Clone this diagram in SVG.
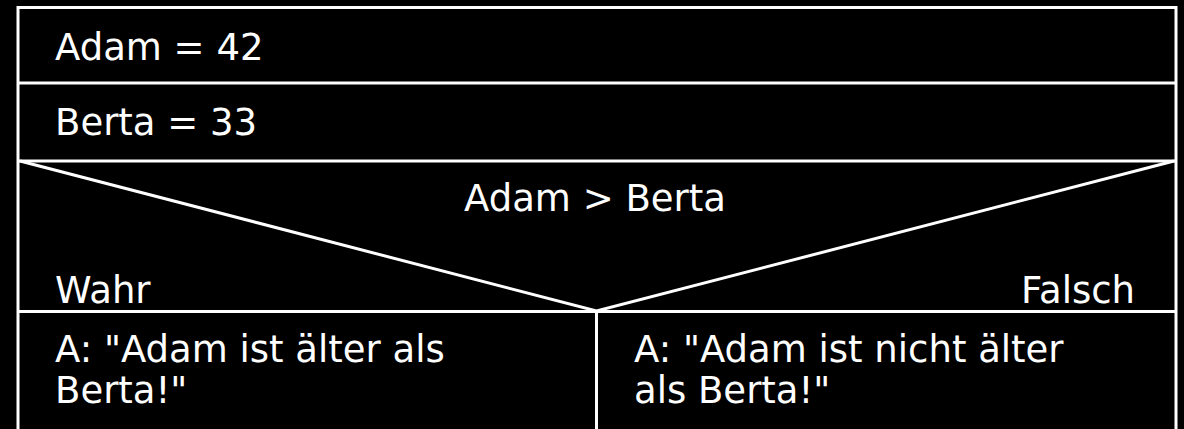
<svg xmlns="http://www.w3.org/2000/svg" width="1184" height="429" viewBox="0 0 1184 429">
<style>
.ln{stroke:#fff;stroke-width:3;fill:none}
.t{fill:#fff;font-family:"DejaVu Sans","Verdana",sans-serif;font-size:37px}
</style>
<rect x="0" y="0" width="1184" height="429" fill="#000"/>
<g id="frame">
<path class="ln" d="M18 440 V7.5 H1176 V440"/>
</g>
<g id="assign-adam">
<line class="ln" x1="18" y1="83" x2="1176" y2="83"/>
<text class="t" x="55" y="60">Adam = 42</text>
</g>
<g id="assign-berta">
<line class="ln" x1="18" y1="161" x2="1176" y2="161"/>
<text class="t" x="55" y="135">Berta = 33</text>
</g>
<g id="condition">
<text class="t" x="595" y="211" text-anchor="middle">Adam &gt; Berta</text>
<text class="t" x="55" y="303">Wahr</text>
<text class="t" x="1135" y="303" text-anchor="end">Falsch</text>
</g>
<g id="connectors">
<polyline class="ln" points="20,161 596.5,311 1174,161"/>
<line class="ln" x1="18" y1="311.5" x2="1176" y2="311.5"/>
<line class="ln" x1="596.5" y1="311" x2="596.5" y2="440"/>
</g>
<g id="branch-true">
<text class="t" x="55" y="362">A: "Adam ist älter als</text>
<text class="t" x="55" y="403">Berta!"</text>
</g>
<g id="branch-false">
<text class="t" x="634" y="362">A: "Adam ist nicht älter</text>
<text class="t" x="634" y="403">als Berta!"</text>
</g>
</svg>
